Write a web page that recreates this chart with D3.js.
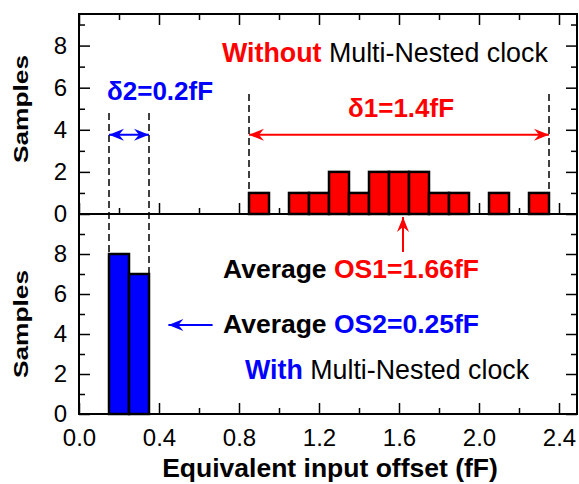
<!DOCTYPE html>
<html>
<head>
<meta charset="utf-8">
<script src="https://cdn.jsdelivr.net/npm/d3@7"></script>
<style>
  body { margin: 0; background: #fff; }
  text { font-family: "Liberation Sans", Arial, sans-serif; }
</style>
</head>
<body>
<svg width="579" height="484"></svg>
<script>
// histogram bins (bin centre, fF) and counts
const withoutBins = [0.9, 1.1, 1.2, 1.3, 1.4, 1.5, 1.6, 1.7, 1.8, 1.9, 2.1, 2.3];
const withoutCounts = [1, 1, 1, 2, 1, 2, 2, 2, 1, 1, 1, 1];
const withBins = [0.2, 0.3];
const withCounts = [8, 7];
const binWidth = 0.1;

const xMajor = [0.0, 0.4, 0.8, 1.2, 1.6, 2.0, 2.4];
const xMinor = [0.2, 0.6, 1.0, 1.4, 1.8, 2.2];
const yMajor = [0, 2, 4, 6, 8];
const yMinor = [1, 3, 5, 7, 9];

const svg = d3.select("svg");

const x = d3.scaleLinear().domain([0, 2.49]).range([79, 577]);
const yTop = d3.scaleLinear().domain([0, 9.5]).range([214, 14]);
const yBot = d3.scaleLinear().domain([0, 10]).range([414, 214]);

// ticks
function ticks(axis, tx, ty, vals, size, labels) {
  const g = svg.append("g")
    .attr("transform", `translate(${tx},${ty})`)
    .call(axis.tickValues(vals).tickSize(size).tickPadding(labels ? 15 : 0)
      .tickFormat(labels ? labels : () => ""));
  g.select(".domain").remove();
  g.selectAll("line").attr("stroke-width", 1.5);
  g.selectAll("text").attr("font-size", 24).attr("fill", "#000");
  return g;
}

// x ticks
ticks(d3.axisBottom(x), 0, 414, xMajor, -11, d3.format(".1f"));
ticks(d3.axisBottom(x), 0, 414, xMinor, -6);
ticks(d3.axisBottom(x), 0, 214, xMajor, -11);
ticks(d3.axisBottom(x), 0, 214, xMinor, -6);
ticks(d3.axisTop(x), 0, 14, xMajor, -11);
ticks(d3.axisTop(x), 0, 14, xMinor, -6);

// y ticks
[yTop, yBot].forEach(y => {
  const l = ticks(d3.axisLeft(y), 79, 0, yMajor, -11, d3.format("d"));
  l.selectAll("text").attr("dx", 0).attr("x", -12);
  ticks(d3.axisLeft(y), 79, 0, yMinor, -6);
  ticks(d3.axisRight(y), 577, 0, yMajor, -11);
  ticks(d3.axisRight(y), 577, 0, yMinor, -6);
});

// bars
svg.append("g").selectAll("rect")
  .data(withoutBins.map((c, i) => [c, withoutCounts[i]]))
  .join("rect")
  .attr("x", d => x(d[0] - binWidth / 2))
  .attr("width", x(binWidth) - x(0))
  .attr("y", d => yTop(d[1]))
  .attr("height", d => yTop(0) - yTop(d[1]))
  .attr("fill", "#ff0000")
  .attr("stroke", "#000")
  .attr("stroke-width", 2.5);

svg.append("g").selectAll("rect")
  .data(withBins.map((c, i) => [c, withCounts[i]]))
  .join("rect")
  .attr("x", d => x(d[0] - binWidth / 2))
  .attr("width", x(binWidth) - x(0))
  .attr("y", d => yBot(d[1]))
  .attr("height", d => yBot(0) - yBot(d[1]))
  .attr("fill", "#0000ff")
  .attr("stroke", "#000")
  .attr("stroke-width", 2.5);

// frames
svg.append("rect").attr("x", 79).attr("y", 14).attr("width", 498).attr("height", 400)
  .attr("fill", "none").attr("stroke", "#000").attr("stroke-width", 2);
svg.append("line").attr("x1", 79).attr("x2", 577).attr("y1", 214).attr("y2", 214)
  .attr("stroke", "#000").attr("stroke-width", 2);

// dashed guides
const dash = (xv, y1, y2) => svg.append("line")
  .attr("x1", x(xv)).attr("x2", x(xv)).attr("y1", y1).attr("y2", y2)
  .attr("stroke", "#000").attr("stroke-width", 1.5).attr("stroke-dasharray", "7,4");
dash(0.15, yTop(4.8), yBot(8));
dash(0.35, yTop(4.8), yBot(7));
dash(0.85, yTop(5.7), yTop(1));
dash(2.35, yTop(5.7), yTop(1));

// arrow markers
const defs = svg.append("defs");
["#ff0000", "#0000ff"].forEach((c, i) => {
  defs.append("marker")
    .attr("id", "ah" + i)
    .attr("markerUnits", "userSpaceOnUse")
    .attr("viewBox", "-16 -7 17 14")
    .attr("markerWidth", 17).attr("markerHeight", 14)
    .attr("refX", 0).attr("refY", 0)
    .attr("orient", "auto-start-reverse")
    .append("path").attr("d", "M0,0 L-15,-6 L-10,0 L-15,6 Z").attr("fill", c);
});
const arrow = (x1, y1, x2, y2, c, both) => svg.append("line")
  .attr("x1", x1).attr("y1", y1).attr("x2", x2).attr("y2", y2)
  .attr("stroke", c).attr("stroke-width", 2)
  .attr("marker-end", `url(#ah${c === "#ff0000" ? 0 : 1})`)
  .attr("marker-start", both ? `url(#ah${c === "#ff0000" ? 0 : 1})` : null);
arrow(x(0.85), yTop(3.76), x(2.35), yTop(3.76), "#ff0000", true);
arrow(x(0.15), yTop(3.76), x(0.35), yTop(3.76), "#0000ff", true);
arrow(x(1.62), yBot(8.1), x(1.62), yBot(9.85), "#ff0000", false);
arrow(x(0.668), yBot(4.45), x(0.447), yBot(4.45), "#0000ff", false);

// annotations
function label(xp, yp, size, parts) {
  const t = svg.append("text").attr("x", xp).attr("y", yp).attr("font-size", size);
  parts.forEach(p => t.append("tspan").text(p[0]).attr("fill", p[1])
    .attr("font-weight", p[2] ? "bold" : "normal"));
}
label(222, 62, 26.8, [["Without", "#ff0000", 1], [" Multi-Nested clock", "#000", 0]]);
label(107, 100, 26, [["δ2=0.2fF", "#0000ff", 1]]);
label(348, 117, 26, [["δ1=1.4fF", "#ff0000", 1]]);
label(223, 278, 26.5, [["Average ", "#000", 1], ["OS1=1.66fF", "#ff0000", 1]]);
label(223, 333, 26.5, [["Average ", "#000", 1], ["OS2=0.25fF", "#0000ff", 1]]);
label(245, 379, 26.8, [["With", "#0000ff", 1], [" Multi-Nested clock", "#000", 0]]);

// axis titles
[109, 324].forEach(cy => {
  svg.append("text")
    .attr("transform", `translate(28,${cy}) rotate(-90)`)
    .attr("text-anchor", "middle")
    .attr("font-size", 21).attr("font-weight", "bold")
    .attr("textLength", 108).attr("lengthAdjust", "spacingAndGlyphs")
    .text("Samples");
});
svg.append("text")
  .attr("x", 330).attr("y", 477)
  .attr("text-anchor", "middle")
  .attr("font-size", 26.5).attr("font-weight", "bold")
  .text("Equivalent input offset (fF)");
</script>
</body>
</html>
